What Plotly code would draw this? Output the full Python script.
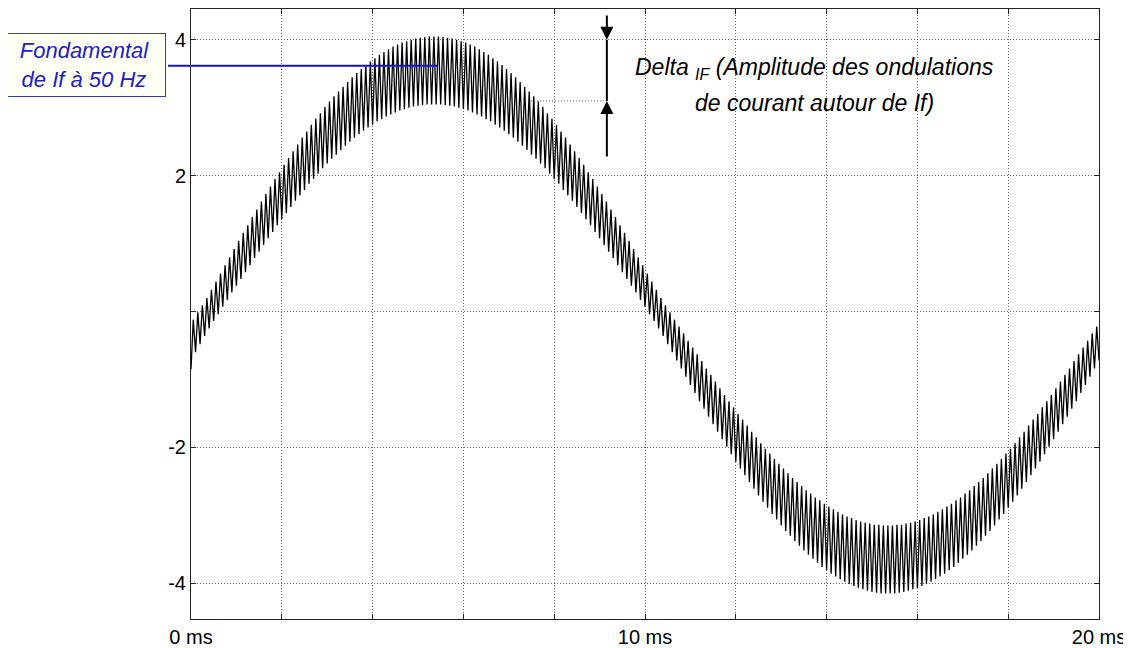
import plotly.graph_objects as go

# Courant If : fondamental 50 Hz + ondulations de decoupage (~10 kHz)
# creux lus a t = 0, 0.1, ..., 20 ms ; sommets lus a t = 0.05, 0.15, ..., 19.95 ms
ripple_low = [
    -0.85, -0.60, -0.48, -0.36,
    -0.25, -0.14, -0.04, 0.07, 0.17, 0.28, 0.38, 0.48, 0.58, 0.68,
    0.79, 0.88, 0.98, 1.08, 1.17, 1.27, 1.36, 1.45, 1.54, 1.63,
    1.71, 1.79, 1.88, 1.95, 2.03, 2.11, 2.18, 2.25, 2.31, 2.38,
    2.44, 2.50, 2.56, 2.61, 2.66, 2.71, 2.75, 2.80, 2.83, 2.87,
    2.90, 2.93, 2.96, 2.98, 3.00, 3.02, 3.03, 3.04, 3.05, 3.05,
    3.05, 3.05, 3.04, 3.03, 3.02, 3.00, 2.98, 2.96, 2.93, 2.90,
    2.87, 2.83, 2.80, 2.75, 2.71, 2.66, 2.61, 2.56, 2.50, 2.44,
    2.38, 2.31, 2.25, 2.18, 2.11, 2.03, 1.95, 1.88, 1.79, 1.71,
    1.63, 1.54, 1.45, 1.36, 1.27, 1.17, 1.08, 0.98, 0.88, 0.79,
    0.68, 0.58, 0.48, 0.38, 0.28, 0.17, 0.07, -0.04, -0.14, -0.25,
    -0.36, -0.48, -0.60, -0.72, -0.84, -0.96, -1.08, -1.20, -1.32, -1.43,
    -1.55, -1.66, -1.77, -1.88, -1.99, -2.10, -2.21, -2.31, -2.41, -2.51,
    -2.61, -2.71, -2.80, -2.89, -2.98, -3.06, -3.15, -3.23, -3.30, -3.38,
    -3.45, -3.52, -3.58, -3.64, -3.70, -3.76, -3.81, -3.86, -3.90, -3.94,
    -3.98, -4.01, -4.04, -4.07, -4.09, -4.11, -4.13, -4.14, -4.15, -4.15,
    -4.15, -4.15, -4.14, -4.13, -4.11, -4.09, -4.07, -4.04, -4.01, -3.98,
    -3.94, -3.90, -3.86, -3.81, -3.76, -3.70, -3.64, -3.58, -3.52, -3.45,
    -3.38, -3.30, -3.23, -3.15, -3.06, -2.98, -2.89, -2.80, -2.71, -2.61,
    -2.51, -2.41, -2.31, -2.21, -2.10, -1.99, -1.88, -1.77, -1.66, -1.55,
    -1.43, -1.32, -1.20, -1.08, -0.96, -0.84, -0.72,
]
ripple_high = [
    -0.12, -0.01, 0.09, 0.20,
    0.32, 0.44, 0.56, 0.68, 0.80, 0.92, 1.04, 1.16, 1.27, 1.39,
    1.50, 1.62, 1.73, 1.84, 1.95, 2.05, 2.16, 2.26, 2.36, 2.46,
    2.56, 2.65, 2.75, 2.84, 2.92, 3.01, 3.09, 3.17, 3.24, 3.31,
    3.38, 3.45, 3.51, 3.57, 3.63, 3.68, 3.73, 3.78, 3.82, 3.86,
    3.90, 3.93, 3.96, 3.98, 4.00, 4.02, 4.03, 4.04, 4.05,
    4.05,
    4.05, 4.04, 4.03, 4.02, 4.00, 3.98, 3.96, 3.93, 3.90,
    3.86, 3.82, 3.78, 3.73, 3.68, 3.63, 3.57, 3.51, 3.45, 3.38,
    3.31, 3.24, 3.17, 3.09, 3.01, 2.92, 2.84, 2.75, 2.65, 2.56,
    2.46, 2.36, 2.26, 2.16, 2.05, 1.95, 1.84, 1.73, 1.62, 1.50,
    1.39, 1.27, 1.16, 1.04, 0.92, 0.80, 0.68, 0.56, 0.44, 0.32,
    0.20,
    0.09, -0.01, -0.12, -0.22, -0.32, -0.43, -0.53, -0.63, -0.73, -0.84,
    -0.93, -1.03, -1.13, -1.23, -1.32, -1.41, -1.51, -1.59, -1.68, -1.77,
    -1.85, -1.94, -2.02, -2.09, -2.17, -2.24, -2.31, -2.38, -2.45, -2.51,
    -2.57, -2.63, -2.68, -2.74, -2.78, -2.83, -2.87, -2.91, -2.95, -2.99,
    -3.02, -3.04, -3.07, -3.09, -3.11, -3.12, -3.14, -3.14, -3.15,
    -3.15,
    -3.15, -3.14, -3.14, -3.12, -3.11, -3.09, -3.07, -3.04, -3.02,
    -2.99, -2.95, -2.91, -2.87, -2.83, -2.78, -2.74, -2.68, -2.63, -2.57,
    -2.51, -2.45, -2.38, -2.31, -2.24, -2.17, -2.09, -2.02, -1.94, -1.85,
    -1.77, -1.68, -1.59, -1.51, -1.41, -1.32, -1.23, -1.13, -1.03, -0.93,
    -0.84, -0.73, -0.63, -0.53, -0.43, -0.32, -0.22,
]

x_ticks = [0, 2, 4, 6, 8, 10, 12, 14, 16, 18, 20]
x_tick_text = ["0 ms", "", "", "", "", "10 ms", "", "", "", "", "20 ms"]
y_ticks = [-4, -2, 0, 2, 4]
y_tick_text = ["-4", "-2", "", "2", "4"]

fund_level = 3.62      # fondamental de If
delta_top = 4.0        # haut des ondulations
delta_bottom = 3.1     # bas des ondulations
arrow_t = 9.16         # position des fleches (ms)

x_range = [0, 20]
y_range = [-4.527, 4.454]

# trace en dents de scie : creux puis sommet a chaque periode de decoupage
time_ms = []
current = []
for k, lo in enumerate(ripple_low):
    time_ms.append(round(k * 0.1, 3))
    current.append(lo)
    if k < len(ripple_high):
        time_ms.append(round(k * 0.1 + 0.05, 3))
        current.append(ripple_high[k])


def yp(v):
    return (v - y_range[0]) / (y_range[1] - y_range[0])


def xp(t):
    return (t - x_range[0]) / (x_range[1] - x_range[0])


fig = go.Figure()
fig.add_trace(go.Scatter(
    x=time_ms, y=current, mode="lines",
    line=dict(color="black", width=1.3),
    hoverinfo="skip", showlegend=False
))

axis_style = dict(
    showline=True, linecolor="#222", linewidth=1, mirror="ticks",
    ticks="inside", ticklen=5, tickcolor="#222",
    showgrid=True, gridcolor="#666", gridwidth=1, griddash="1px,2px",
    zeroline=False,
    tickfont=dict(family="Liberation Sans", size=20, color="black"),
)

fig.update_xaxes(range=x_range, tickmode="array", tickvals=x_ticks,
                 ticktext=x_tick_text, **axis_style)
fig.update_yaxes(range=y_range, tickmode="array", tickvals=y_ticks,
                 ticktext=y_tick_text, **axis_style)

box_right = -0.0253
fig.add_shape(type="line", xref="paper", yref="paper",
              x0=box_right, x1=0.271, y0=yp(fund_level), y1=yp(fund_level),
              line=dict(color="#1010e0", width=2))
# repere pointille du bas des ondulations
fig.add_shape(type="line", xref="paper", yref="paper",
              x0=0.368, x1=xp(arrow_t), y0=yp(delta_bottom), y1=yp(delta_bottom),
              line=dict(color="#444", width=1, dash="1px,2px"))
# trait vertical entre les deux fleches
fig.add_shape(type="line", xref="x", yref="y",
              x0=arrow_t, x1=arrow_t, y0=delta_bottom, y1=delta_top,
              line=dict(color="black", width=2))

fig.add_annotation(x=arrow_t, y=delta_top, ax=arrow_t, ay=4.38,
                   xref="x", yref="y", axref="x", ayref="y", text="",
                   showarrow=True, arrowhead=2, arrowsize=1.3, arrowwidth=2,
                   arrowcolor="black")
fig.add_annotation(x=arrow_t, y=delta_bottom, ax=arrow_t, ay=2.26,
                   xref="x", yref="y", axref="x", ayref="y", text="",
                   showarrow=True, arrowhead=2, arrowsize=1.3, arrowwidth=2,
                   arrowcolor="black")


def py(page_y):
    # position verticale en pixels de la page -> coordonnee papier
    return 1 - (page_y - 8) / 613


fig.add_annotation(
    x=-0.1173, y=py(64), xref="paper", yref="paper",
    text="<i>Fondamental<br>de If à 50 Hz</i>", showarrow=False,
    xanchor="center", yanchor="middle", align="center",
    width=157, height=58, borderpad=2,
    bgcolor="#fffff4", bordercolor="#3a3ab0", borderwidth=1,
    font=dict(family="Liberation Sans", size=22, color="#2020c8")
)
fig.add_annotation(
    x=(633 - 191) / 908, y=py(68), xref="paper", yref="paper",
    text="<i>Delta <sub>IF</sub> (Amplitude des ondulations</i>",
    showarrow=False, xanchor="left", yanchor="middle",
    font=dict(family="Liberation Sans", size=23, color="black")
)
fig.add_annotation(
    x=(693 - 191) / 908, y=py(102), xref="paper", yref="paper",
    text="<i>de courant autour de If)</i>",
    showarrow=False, xanchor="left", yanchor="middle",
    font=dict(family="Liberation Sans", size=23, color="black")
)

fig.update_layout(
    width=1123, height=640,
    margin=dict(l=183, r=32, t=0, b=27),
    paper_bgcolor="white", plot_bgcolor="white",
    showlegend=False,
)

fig.write_html("out.html")
